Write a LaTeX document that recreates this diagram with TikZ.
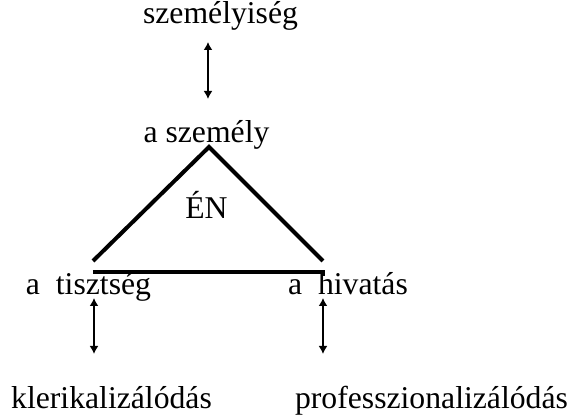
\documentclass[tikz,border=0pt]{standalone}
\usepackage{fontspec}
\setmainfont{Liberation Serif}
\usetikzlibrary{arrows.meta}

\begin{document}
\begin{tikzpicture}[x=0.5pt, y=-0.5pt, every node/.style={anchor=base,inner sep=0pt,font=\fontsize{15.85pt}{19pt}\selectfont},
  side/.style={line width=2pt}, link/.style={line width=1pt,{Latex[length=4pt,width=4.5pt]}-{Latex[length=4pt,width=4.5pt]}}]
  \useasboundingbox (0,0) rectangle (570,416);
  \node (sz) at (220.5,24) {személyiség};
  \node (as) at (206.5,143) {a személy};
  \node (en) at (206.5,219) {ÉN};
  \node (ti) at (88.5,295) {a\ \ tisztség};
  \node (hi) at (348,295) {a\ \ hivatás};
  \node (kl) at (111.5,409) {klerikalizálódás};
  \node (pr) at (431.5,409) {professzionalizálódás};
  \coordinate (top) at (209,147);
  \coordinate (l) at (93,261);
  \coordinate (r) at (323,261);
  \coordinate (bl) at (93,272);
  \coordinate (br) at (323,272);
  \coordinate (bt) at (323,276);
  \draw[side] (l) -- (top) -- (r);
  \draw[side] (bl) -- (br) -- (bt);
  \coordinate (a1) at (208,42);
  \coordinate (a2) at (208,99);
  \coordinate (b1) at (94,298);
  \coordinate (b2) at (94,354);
  \coordinate (c1) at (323,298);
  \coordinate (c2) at (323,354);
  \draw[link] (a1) -- (a2);
  \draw[link] (b1) -- (b2);
  \draw[link] (c1) -- (c2);
\end{tikzpicture}
\end{document}
